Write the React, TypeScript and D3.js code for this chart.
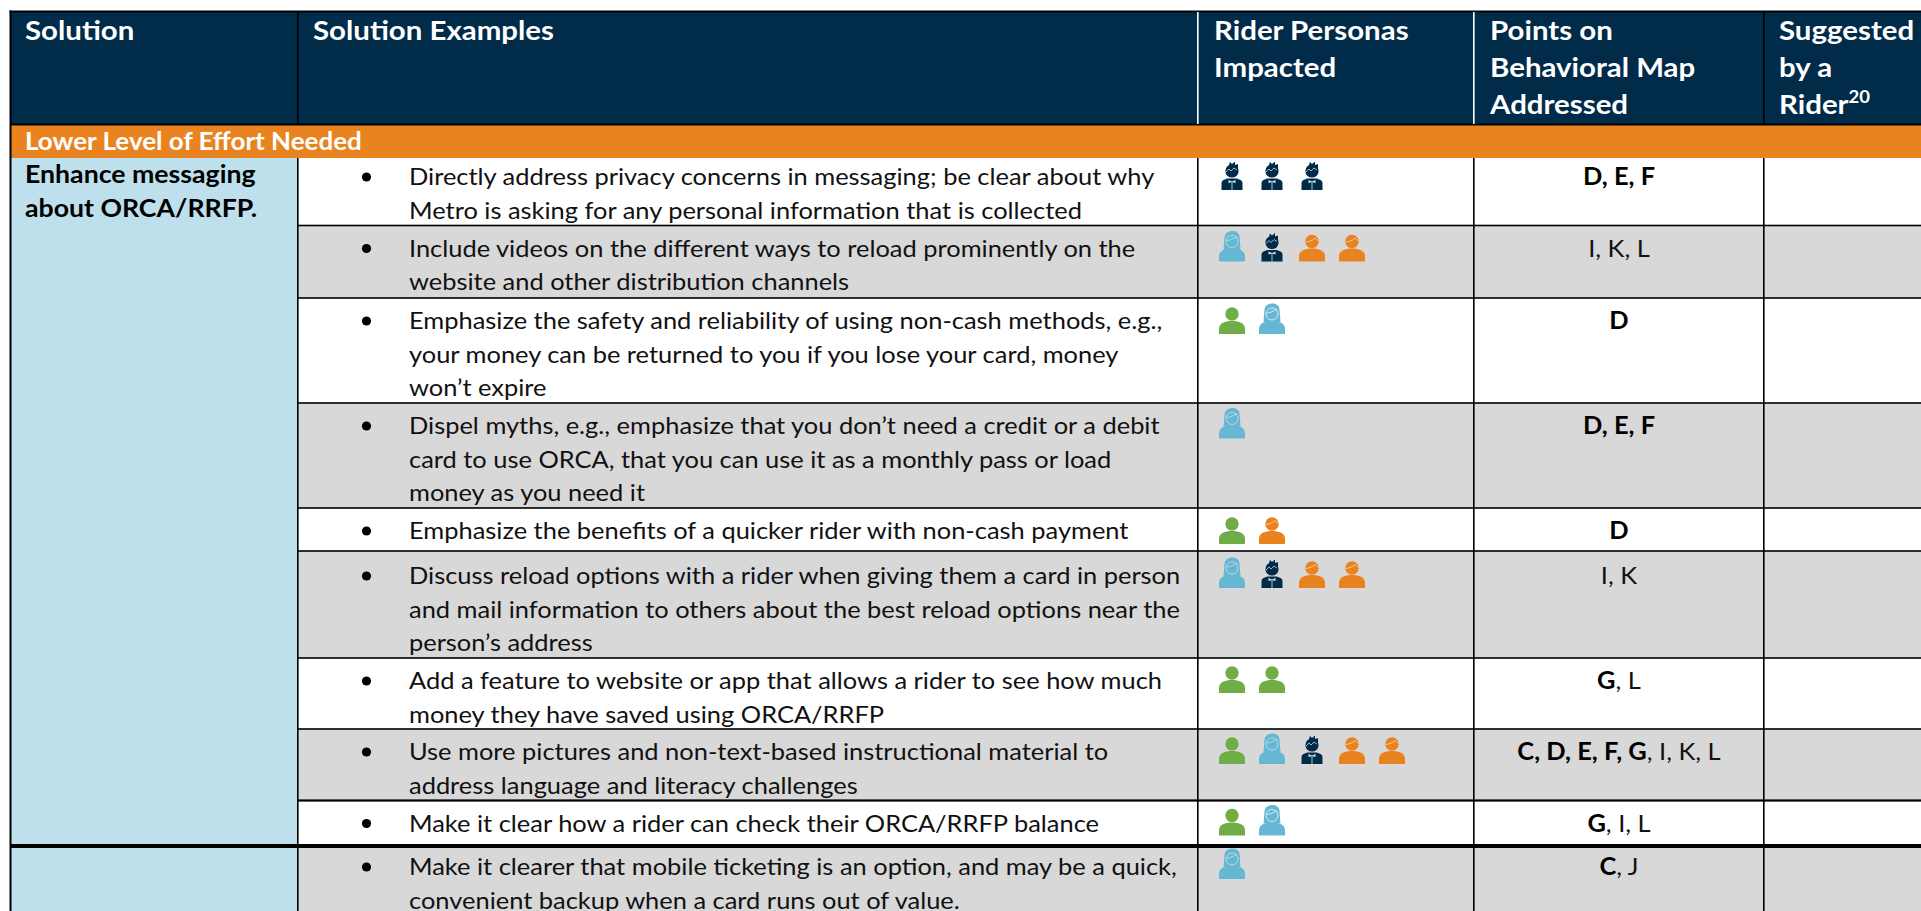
import React from "react";
import * as d3 from "d3";

const headers = [["Solution"], ["Solution Examples"], ["Rider Personas", "Impacted"], ["Points on", "Behavioral Map", "Addressed"], ["Suggested", "by a", "Rider"]];
const bandLabel = "Lower Level of Effort Needed";
const solutionLines = ["Enhance messaging", "about ORCA/RRFP."];
const exampleLines = [
  ["Directly address privacy concerns in messaging; be clear about why", "Metro is asking for any personal information that is collected"],
  ["Include videos on the different ways to reload prominently on the", "website and other distribution channels"],
  ["Emphasize the safety and reliability of using non-cash methods, e.g.,", "your money can be returned to you if you lose your card, money", "won’t expire"],
  ["Dispel myths, e.g., emphasize that you don’t need a credit or a debit", "card to use ORCA, that you can use it as a monthly pass or load", "money as you need it"],
  ["Emphasize the benefits of a quicker rider with non-cash payment"],
  ["Discuss reload options with a rider when giving them a card in person", "and mail information to others about the best reload options near the", "person’s address"],
  ["Add a feature to website or app that allows a rider to see how much", "money they have saved using ORCA/RRFP"],
  ["Use more pictures and non-text-based instructional material to", "address language and literacy challenges"],
  ["Make it clear how a rider can check their ORCA/RRFP balance"],
  ["Make it clearer that mobile ticketing is an option, and may be a quick,", "convenient backup when a card runs out of value."],
];
const rowPersonas = [
  ["man", "man", "man"],
  ["woman", "man", "orange", "orange"],
  ["green", "woman"],
  ["woman"],
  ["green", "orange"],
  ["woman", "man", "orange", "orange"],
  ["green", "green"],
  ["green", "woman", "man", "orange", "orange"],
  ["green", "woman"],
  ["woman"],
];
const pointsBold = ["D, E, F", "", "D", "D, E, F", "D", "", "G", "C, D, E, F, G", "G", "C"];
const pointsRegular = ["", "I, K, L", "", "", "", "I, K", ", L", ", I, K, L", ", I, L", ", J"];
const rowEdges = [158, 225.5, 298, 403, 508, 551, 658, 729, 800.5, 846, 911];
const rowStriped = [false, true, false, true, false, true, false, true, false, true];
const rowTextOffset = [27, 31, 31, 31, 31, 33, 31, 31, 31, 29];
const rowIconOffset = [32, 36, 36, 35.5, 36, 37, 35, 35, 35, 33];
const columnEdges = [11, 298, 1198, 1474, 1764, 1921];

const NAVY = "#002b49";
const ORANGE = "#e98320";
const LIGHT = "#bee0ec";
const GRAY = "#d8d8d8";
const FONT = "Lato, 'Open Sans', sans-serif";
const K_BODY = 1.06;
const K_BOLD = 1.067;
const K_BAND = 1.04;
const K_HEAD = 1.09;

const personaColor = d3.scaleOrdinal<string, string>().domain(["man", "woman", "orange", "green"]).range([NAVY, "#65b7d3", ORANGE, "#70ad47"]);
const iconX = d3.scaleLinear().domain([0, 1]).range([1232, 1272]);

function Person({ kind, x, y, bg }: { kind: string; x: number; y: number; bg: string }) {
  const c = personaColor(kind);
  const dome = "M-13,0 L-13,-5 C-13,-11 -7,-13 0,-13 C7,-13 13,-11 13,-5 L13,0 Z";
  const line = bg === GRAY ? "#d8e4e8" : "#fff";
  if (kind === "man") {
    return (
      <g transform={`translate(${x},${y})`}>
        <circle cx={0} cy={-19} r={6.6} fill={c} />
        <path d="M-3,-25 L-2,-28 L0,-26 L3,-28.5 L3,-25 L6,-26 L6,-20 Z" fill={c} />
        <path d="M-6,-18 L-3,-21 L-1,-19 L2,-22 L5,-20" fill="none" stroke="#fff" strokeWidth={0.8} opacity={0.8} />
        <path d="M-10.5,0 L-10.5,-7 C-10.5,-10 -6,-11.5 -3,-11.5 L3,-11.5 C6,-11.5 10.5,-10 10.5,-7 L10.5,0 Z" fill={c} />
        <path d="M-3.5,-10 L0,-8.6 L3.5,-10 L3.5,-7 L0,-8 L-3.5,-7 Z M-0.4,-8 H0.4 V0 H-0.4 Z" fill="#fff" opacity={0.85} />
      </g>
    );
  }
  if (kind === "woman") {
    return (
      <g transform={`translate(${x},${y})`}>
        <path d="M-8.5,-12 L-7.5,-24 C-7,-32.5 7,-32.5 7.5,-25 L8.5,-12 Z" fill={c} />
        <path d={dome} fill={c} />
        <circle cx={0} cy={-20} r={6} fill={c} stroke={line} strokeWidth={0.7} />
        <path d="M-5.5,-21 C-2,-21 2,-23 5,-25" fill="none" stroke={line} strokeWidth={0.7} />
      </g>
    );
  }
  return (
    <g transform={`translate(${x},${y})`}>
      <circle cx={0} cy={-20} r={6.7} fill={c} />
      {kind === "orange" && <path d="M-6,-19.5 C-3,-20 1,-21 3,-23.5 L6,-20.5" fill="none" stroke="#f3d9bf" strokeWidth={0.8} />}
      <path d={dome} fill={c} />
    </g>
  );
}

export default function App() {
  const [x0, x1, x2, x3, x4, x5] = columnEdges;
  return (
    <svg width={1921} height={911} style={{ position: "fixed", left: 0, top: 0, display: "block", background: "#fff" }} fontFamily={FONT}>
      <rect x={x0} y={12} width={x5 - x0} height={112} fill={NAVY} />
      <rect x={x0} y={125} width={x5 - x0} height={33} fill={ORANGE} />
      <rect x={x0} y={158} width={x1 - x0} height={753} fill={LIGHT} />
      {rowStriped.map((s, i) => s ? <rect key={i} x={x1} y={rowEdges[i]} width={x5 - x1} height={rowEdges[i + 1] - rowEdges[i]} fill={GRAY} /> : null)}

      {/* borders */}
      <rect x={x0 - 1.5} y={10.5} width={x5} height={2} fill="#000" />
      <rect x={x0 - 1.5} y={10.5} width={2} height={900.5} fill="#000" />
      <rect x={x0} y={123.5} width={x5} height={2} fill="#000" />
      <rect x={x1 - 1} y={12} width={1.6} height={112} fill="#000" />
      <rect x={x2 - 1} y={12} width={1.6} height={112} fill="#fff" />
      <rect x={x3 - 1} y={12} width={1.6} height={112} fill="#fff" />
      <rect x={x4 - 1} y={12} width={1.6} height={112} fill="#000" />
      {[x1, x2, x3, x4].map((x) => <rect key={x} x={x - 1} y={158} width={1.6} height={753} fill="#000" />)}
      {rowEdges.slice(1, -1).map((y, i) => {
        const thick = i === 8;
        const h = thick ? 4 : i === 7 ? 2.2 : 1.6;
        return <rect key={y} x={thick ? x0 : x1} y={y - h / 2} width={x5} height={h} fill="#000" />;
      })}

      {/* header */}
      <g fill="#fff" fontWeight={700} fontSize={27}>
        {headers.map((lines, c) => lines.map((t, l) => (
          <text key={t} transform={`translate(${[25, 313, 1214, 1490, 1779][c]},${40 + l * 37}) scale(${K_HEAD},1)`}>
            {t}
            {t === "Rider" && <tspan fontSize={17} dy={-11}>20</tspan>}
          </text>
        )))}
      </g>
      <text transform={`translate(25,150) scale(${K_BAND},1)`} fill="#fff" fontWeight={700} fontSize={25}>{bandLabel}</text>
      {solutionLines.map((t, l) => (
        <text key={t} transform={`translate(25,${183 + l * 34}) scale(${K_BOLD},1)`} fontWeight={700} fontSize={25} fill="#000">{t}</text>
      ))}

      {/* rows */}
      {exampleLines.map((lines, r) => {
        const top = rowEdges[r] + rowTextOffset[r];
        const bg = rowStriped[r] ? GRAY : "#fff";
        return (
          <g key={r}>
            <circle cx={366.5} cy={top - 8} r={4.6} fill="#000" />
            {lines.map((t, l) => (
              <text key={t} transform={`translate(409,${top + l * 33.5}) scale(${K_BODY},1)`} fontSize={24} fill="#111">{t}</text>
            ))}
            {rowPersonas[r].map((k, i) => (
              <Person key={i} kind={k} x={iconX(i)} y={rowEdges[r] + rowIconOffset[r]} bg={bg} />
            ))}
            <text transform={`translate(1619,${top}) scale(${K_BODY},1)`} textAnchor="middle" fontSize={24} fill="#111">
              <tspan fontWeight={700} fill="#000">{pointsBold[r]}</tspan>
              <tspan>{pointsRegular[r]}</tspan>
            </text>
          </g>
        );
      })}
    </svg>
  );
}
